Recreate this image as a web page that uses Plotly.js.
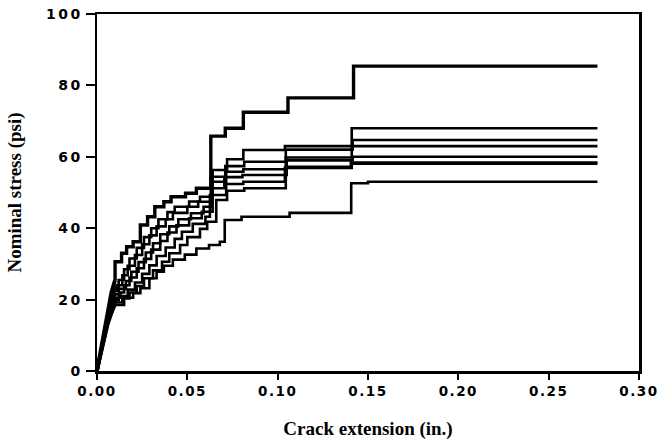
<!DOCTYPE html>
<html>
<head>
<meta charset="utf-8">
<script src="https://cdn.plot.ly/plotly-3.0.1.min.js"></script>
<style>
html,body{margin:0;padding:0;background:#fff;}
#chart{width:661px;height:446px;}
.xtick text { letter-spacing: 1.5px; }
.ytick text { letter-spacing: 2.5px; }
</style>
</head>
<body>
<div id="chart"></div>
<script>
// Shared ramp (initial steep rise) x positions, crack extension (in.)
const rampX = [0, 0.002, 0.004, 0.006, 0.008, 0.010];

// Ramp stress values (psi) per specimen
const rampA = [0, 5.5, 11.5, 17, 22, 25.5];
const rampB = [0, 5.5, 11, 16, 20.5, 23.5];
const rampC = [0, 5, 11, 15.5, 19.5, 22.5];
const rampD = [0, 5, 10.5, 15, 19, 21.5];
const rampE = [0, 5, 10, 14.5, 18, 20.5];
const rampF = [0, 4.5, 10, 14, 17.5, 19.8];
const rampG = [0, 4.5, 9.5, 13.5, 17, 19.2];
const rampI = [0, 4.5, 9.5, 13, 16, 18.5];

// Step (R-curve) data: crack extension (in.) and nominal stress (psi)
const stepXA = [0.010, 0.010, 0.0136, 0.0164, 0.020, 0.024, 0.028, 0.032, 0.037, 0.041, 0.049, 0.055, 0.063, 0.071, 0.081, 0.1057, 0.142, 0.277];
const stepYA = [25.5, 30.6, 33.0, 34.8, 36.2, 40.9, 43.2, 46.0, 47.4, 48.8, 49.8, 51.2, 65.8, 68.0, 72.5, 76.5, 85.4, 85.4];

const stepXB = [0.010, 0.012, 0.015, 0.018, 0.022, 0.026, 0.030, 0.034, 0.039, 0.043, 0.051, 0.057, 0.064, 0.072, 0.081, 0.104, 0.141, 0.277];
const stepYB = [23.5, 25.5, 28.5, 31.5, 34.5, 37.5, 40.0, 42.5, 44.5, 46.0, 47.5, 48.8, 56.3, 59.3, 61.9, 63.0, 68.0, 68.0];

const stepXC = [0.010, 0.011, 0.014, 0.017, 0.021, 0.025, 0.029, 0.033, 0.038, 0.042, 0.050, 0.056, 0.063, 0.071, 0.0815, 0.1045, 0.1415, 0.277];
const stepYC = [22.5, 24.0, 26.8, 29.5, 32.5, 35.5, 38.0, 40.5, 42.5, 44.3, 46.0, 47.4, 54.4, 57.4, 58.6, 62.0, 64.7, 64.7];

const stepXD = [0.010, 0.012, 0.016, 0.019, 0.023, 0.027, 0.031, 0.035, 0.040, 0.045, 0.052, 0.059, 0.0635, 0.0715, 0.081, 0.1045, 0.141, 0.277];
const stepYD = [21.5, 23.0, 25.2, 27.8, 30.5, 33.2, 35.8, 38.3, 40.5, 42.5, 44.2, 46.0, 53.0, 55.8, 56.5, 59.8, 63.0, 63.0];

const stepXE = [0.010, 0.013, 0.015, 0.018, 0.022, 0.026, 0.030, 0.035, 0.039, 0.044, 0.051, 0.058, 0.064, 0.0705, 0.0805, 0.105, 0.1415, 0.277];
const stepYE = [20.5, 22.0, 24.0, 26.2, 28.8, 31.4, 34.0, 36.4, 38.8, 40.8, 42.8, 44.6, 51.2, 54.3, 54.9, 59.0, 60.0, 60.0];

const stepXF = [0.010, 0.012, 0.017, 0.021, 0.025, 0.029, 0.033, 0.038, 0.043, 0.047, 0.053, 0.060, 0.0625, 0.0715, 0.081, 0.104, 0.141, 0.277];
const stepYF = [19.8, 21.0, 22.8, 24.8, 27.2, 29.6, 32.2, 34.6, 37.0, 39.0, 41.2, 43.2, 49.3, 52.4, 53.0, 56.9, 58.1, 58.1];

const stepXG = [0.010, 0.014, 0.018, 0.022, 0.026, 0.031, 0.036, 0.040, 0.046, 0.050, 0.057, 0.061, 0.066, 0.072, 0.0815, 0.1045, 0.1405, 0.277];
const stepYG = [19.2, 20.3, 22.0, 23.8, 26.0, 28.2, 30.6, 33.0, 35.3, 37.5, 39.8, 41.8, 47.9, 50.5, 51.2, 57.2, 58.4, 58.4];

const stepXI = [0.010, 0.015, 0.020, 0.024, 0.029, 0.033, 0.037, 0.042, 0.0486, 0.055, 0.062, 0.068, 0.0707, 0.080, 0.1066, 0.1407, 0.150, 0.277];
const stepYI = [18.5, 20.5, 21.8, 23.2, 26.0, 27.8, 29.5, 31.2, 32.6, 34.3, 35.3, 36.2, 42.3, 43.2, 44.3, 52.6, 53.0, 53.0];

const xTickVals = [0, 0.05, 0.10, 0.15, 0.20, 0.25, 0.30];
const xTickText = ['0.00', '0.05', '0.10', '0.15', '0.20', '0.25', '0.30'];
const yTickVals = [0, 20, 40, 60, 80, 100];
const yTickText = ['0', '20', '40', '60', '80', '100'];

const specimens = [
  {ramp: rampA, sx: stepXA, sy: stepYA, w: 3.4},
  {ramp: rampB, sx: stepXB, sy: stepYB, w: 2.6},
  {ramp: rampC, sx: stepXC, sy: stepYC, w: 2.6},
  {ramp: rampD, sx: stepXD, sy: stepYD, w: 2.6},
  {ramp: rampE, sx: stepXE, sy: stepYE, w: 2.6},
  {ramp: rampF, sx: stepXF, sy: stepYF, w: 2.6},
  {ramp: rampG, sx: stepXG, sy: stepYG, w: 2.6},
  {ramp: rampI, sx: stepXI, sy: stepYI, w: 2.6}
];

const traces = [];
specimens.forEach(s => {
  traces.push({x: rampX, y: s.ramp, mode: 'lines', line: {color: '#000', width: s.w + 0.6, shape: 'linear'}, hoverinfo: 'skip', showlegend: false});
  traces.push({x: s.sx, y: s.sy, mode: 'lines', line: {color: '#000', width: s.w, shape: 'hv'}, hoverinfo: 'skip', showlegend: false});
});

const xTickFont = {family: 'DejaVu Sans', size: 13.5, color: '#000', weight: 'bold'};
const yTickFont = {family: 'DejaVu Sans', size: 14, color: '#000', weight: 'bold'};
const titleFont = {family: 'Liberation Serif', size: 19, color: '#000', weight: 'bold'};

const layout = {
  width: 661, height: 446,
  margin: {l: 97, r: 22, t: 14, b: 75},
  paper_bgcolor: '#fff', plot_bgcolor: '#fff',
  showlegend: false,
  xaxis: {
    range: [0, 0.3], tickvals: xTickVals, ticktext: xTickText,
    showgrid: false, zeroline: false,
    showline: true, mirror: true, linecolor: '#000', linewidth: 2.5,
    ticks: 'outside', ticklen: 6, tickwidth: 2, tickcolor: '#000',
    tickfont: xTickFont, ticklabeloverflow: 'allow',
    title: {text: 'Crack extension (in.)', font: titleFont, standoff: 24}
  },
  yaxis: {
    range: [0, 100], tickvals: yTickVals, ticktext: yTickText,
    showgrid: false, zeroline: false,
    showline: true, mirror: true, linecolor: '#000', linewidth: 2.5,
    ticks: 'outside', ticklen: 9, tickwidth: 2, tickcolor: '#000',
    tickfont: yTickFont, ticklabeloverflow: 'allow',
    title: {text: 'Nominal stress (psi)', font: titleFont, standoff: 20}
  }
};

Plotly.newPlot('chart', traces, layout, {displayModeBar: false, staticPlot: true});
</script>
</body>
</html>
